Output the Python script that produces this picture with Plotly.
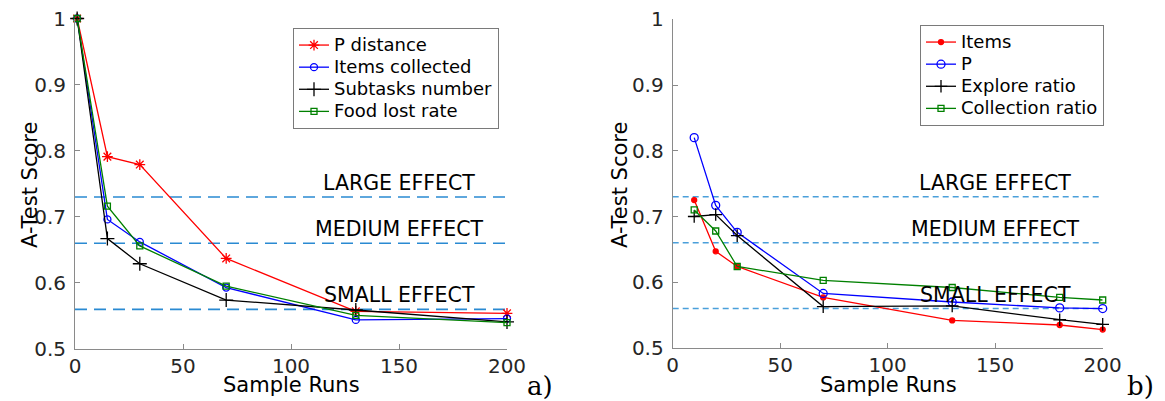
import plotly.graph_objects as go

# ---- data ----
x_a = [1, 15, 30, 70, 130, 200]
p_distance = [1.0, 0.791, 0.779, 0.637, 0.557, 0.554]
items_collected = [1.0, 0.696, 0.662, 0.593, 0.544, 0.546]
subtasks_number = [1.0, 0.667, 0.629, 0.574, 0.559, 0.541]
food_lost_rate = [1.0, 0.716, 0.656, 0.595, 0.551, 0.540]

x_b = [10, 20, 30, 70, 130, 180, 200]
items = [0.725, 0.647, 0.624, 0.577, 0.542, 0.535, 0.528]
p_vals = [0.820, 0.717, 0.676, 0.583, 0.570, 0.561, 0.560]
explore_ratio = [0.700, 0.703, 0.671, 0.563, 0.564, 0.543, 0.536]
collection_ratio = [0.710, 0.678, 0.624, 0.603, 0.592, 0.577, 0.573]

effect_levels = [0.56, 0.66, 0.73]
effect_labels = ["SMALL EFFECT", "MEDIUM EFFECT", "LARGE EFFECT"]

x_ticks = [0, 50, 100, 150, 200]
y_ticks = [0.5, 0.6, 0.7, 0.8, 0.9, 1.0]
y_ticklabels = ["0.5", "0.6", "0.7", "0.8", "0.9", "1"]

FONT = "DejaVu Sans"
W, H = 1165, 401


def legend_name(s):
    return '<span style="font-size:18px">' + s + '</span>'


fig = go.Figure()

left_series = [
    ("P distance", p_distance, "#ff0000", "asterisk-open", 9),
    ("Items collected", items_collected, "#0000ff", "circle-open", 7),
    ("Subtasks number", subtasks_number, "#000000", "cross-thin-open", 10),
    ("Food lost rate", food_lost_rate, "#008000", "square-open", 6),
]
for name, ys, col, sym, sz in left_series:
    fig.add_trace(go.Scatter(
        x=x_a, y=ys, name=legend_name(name), mode="lines+markers",
        line=dict(color=col, width=1.3),
        marker=dict(symbol=sym, size=sz, color=col, line=dict(color=col, width=1.3)),
        xaxis="x", yaxis="y", legend="legend", cliponaxis=False))

right_series = [
    ("Items", items, "#ff0000", "circle", 5),
    ("P", p_vals, "#0000ff", "circle-open", 8),
    ("Explore ratio", explore_ratio, "#000000", "cross-thin-open", 9),
    ("Collection ratio", collection_ratio, "#008000", "square-open", 6),
]
for name, ys, col, sym, sz in right_series:
    fig.add_trace(go.Scatter(
        x=x_b, y=ys, name=legend_name(name), mode="lines+markers",
        line=dict(color=col, width=1.3),
        marker=dict(symbol=sym, size=sz, color=col, line=dict(color=col, width=1.3)),
        xaxis="x2", yaxis="y2", legend="legend2", cliponaxis=False))

shapes = []
annotations = []
for (xr, yr, dash, col) in [("x", "y", "12px,7px", "#2a8ad2"), ("x2", "y2", "6px,4px", "#4a9fda")]:
    for lvl, lab in zip(effect_levels, effect_labels):
        shapes.append(dict(type="line", xref=xr, yref=yr, x0=0, x1=200, y0=lvl, y1=lvl,
                           line=dict(color=col, width=1.6, dash=dash), layer="below"))
        annotations.append(dict(xref=xr, yref=yr, x=150, y=lvl + 0.021, text=lab,
                                showarrow=False, font=dict(family=FONT, size=20.5, color="#000000")))

# axis titles and panel labels
for xc in [30, 620]:
    annotations.append(dict(xref="paper", yref="paper", x=xc / W, y=1 - 185 / H, text="A-Test Score",
                            textangle=-90, showarrow=False, xanchor="center", yanchor="middle",
                            font=dict(family=FONT, size=21, color="#000000")))
for xc in [291, 888]:
    annotations.append(dict(xref="paper", yref="paper", x=xc / W, y=1 - 385 / H, text="Sample Runs",
                            showarrow=False, xanchor="center", yanchor="middle",
                            font=dict(family=FONT, size=21, color="#000000")))
for xc, lab in [(540, "a)"), (1140, "b)")]:
    annotations.append(dict(xref="paper", yref="paper", x=xc / W, y=1 - 386 / H, text=lab,
                            showarrow=False, xanchor="center", yanchor="middle",
                            font=dict(family="DejaVu Serif", size=26, color="#000000")))

axis_common = dict(showgrid=False, zeroline=False, showline=True, linecolor="#8a8a8a", linewidth=1,
                   ticks="inside", ticklen=5, tickcolor="#8a8a8a", automargin=False,
                   tickfont=dict(family=FONT, size=20, color="#262626"))

legend_common = dict(xanchor="left", yanchor="top", bgcolor="white", bordercolor="#7a7a7a",
                     borderwidth=1, itemwidth=30,
                     font=dict(family=FONT, size=14.7, color="#000000"))

fig.update_layout(
    template="none",
    width=W, height=H, margin=dict(l=0, r=0, t=0, b=0, pad=0, autoexpand=False),
    paper_bgcolor="white", plot_bgcolor="white",
    font=dict(family=FONT),
    xaxis=dict(domain=[75 / W, 507 / W], range=[0, 200], tickvals=x_ticks, anchor="y",
               ticklabelstandoff=-1, **axis_common),
    yaxis=dict(domain=[1 - 349 / H, 1 - 18.5 / H], range=[0.5, 1], tickvals=y_ticks,
               ticktext=y_ticklabels, anchor="x", ticklabelstandoff=4, **axis_common),
    xaxis2=dict(domain=[672.7 / W, 1102.7 / W], range=[0, 200], tickvals=x_ticks, anchor="y2",
                ticklabelstandoff=-1, **axis_common),
    yaxis2=dict(domain=[1 - 348 / H, 1 - 19.3 / H], range=[0.5, 1], tickvals=y_ticks,
                ticktext=y_ticklabels, anchor="x2", ticklabelstandoff=4, **axis_common),
    legend=dict(x=293 / W, y=1 - 28 / H, **legend_common),
    legend2=dict(x=920 / W, y=1 - 25 / H, **legend_common),
    shapes=shapes, annotations=annotations,
)

fig.write_html("out.html")
